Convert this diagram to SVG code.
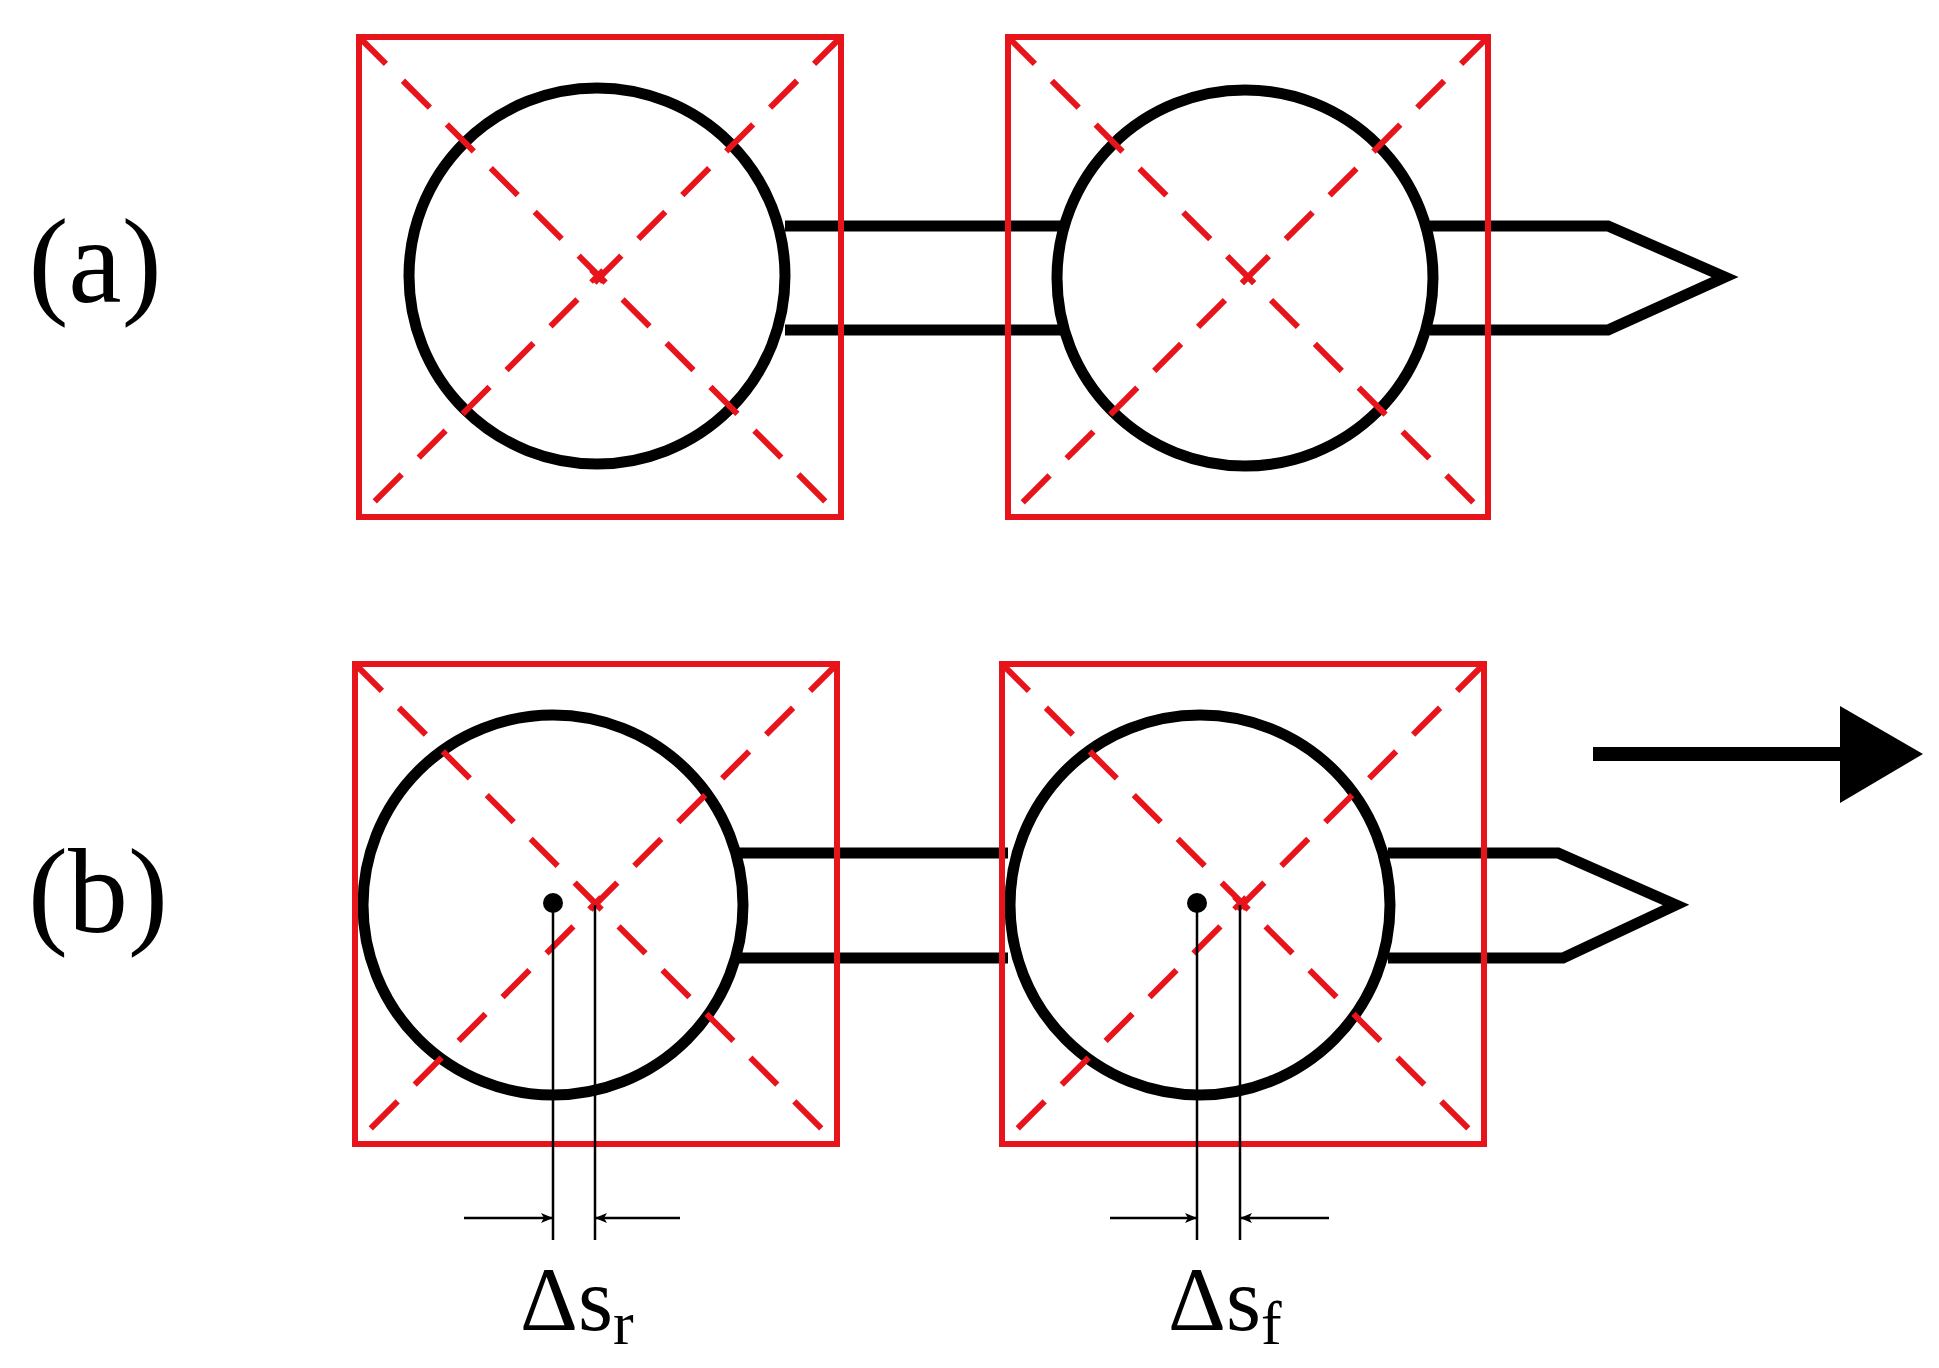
<svg xmlns="http://www.w3.org/2000/svg" width="1939" height="1368" viewBox="0 0 1939 1368">
<style>
.box{fill:none;stroke:#e8141c;stroke-width:6}
.diag{stroke:#e8141c;stroke-width:6;stroke-dasharray:38 24}
.cx{stroke:#e8141c;stroke-width:5}
.wheel{fill:#fff;stroke:#000;stroke-width:11}
.shaft{fill:none;stroke:#000;stroke-width:11}
.thin{stroke:#000;stroke-width:2.5;fill:none}
.lbl{font-family:'Liberation Serif','Times New Roman',serif;fill:#000}
</style>
<defs>
<marker id="ah" markerWidth="12" markerHeight="10" refX="12" refY="5" orient="auto" markerUnits="userSpaceOnUse"><path d="M0,0 L12,5 L0,10 L3,5 Z" fill="#000"/></marker>
</defs>
<rect width="1939" height="1368" fill="#fff"/>
<g id="connectors">
<path class="shaft" d="M785,226 H1070 M785,330 H1070 M1430,226 H1608 L1725,277 L1608,330 H1430"/>
<path class="shaft" d="M738,853 H1008 M738,958 H1008 M1388,853 H1558 L1676,905 L1563,958 H1388"/>
<line x1="1593" y1="754" x2="1850" y2="754" stroke="#000" stroke-width="14"/>
<polygon points="1840,706 1923,754 1840,803" fill="#000"/>
</g>
<g id="a1"><circle class="wheel" cx="597" cy="276" r="188"/><rect class="box" x="359" y="37" width="482" height="480"/><line class="diag" x1="359" y1="37" x2="841" y2="517"/><line class="diag" x1="841" y1="37" x2="359" y2="517"/><path class="cx" d="M591,270 l12,12 M603,270 l-12,12"/></g>
<g id="a2"><circle class="wheel" cx="1245" cy="278" r="188"/><rect class="box" x="1008" y="37" width="480" height="480"/><line class="diag" x1="1008" y1="37" x2="1488" y2="517"/><line class="diag" x1="1488" y1="37" x2="1008" y2="517"/><path class="cx" d="M1242,271 l12,12 M1254,271 l-12,12"/></g>
<g id="b1"><circle class="wheel" cx="553" cy="905" r="190"/><rect class="box" x="355" y="664" width="482" height="480"/><line class="diag" x1="355" y1="664" x2="837" y2="1144"/><line class="diag" x1="837" y1="664" x2="355" y2="1144"/><path class="cx" d="M589,897 l12,12 M601,897 l-12,12"/><circle cx="553" cy="903" r="10" fill="#000"/></g>
<g id="b2"><circle class="wheel" cx="1200" cy="905" r="190"/><rect class="box" x="1002" y="664" width="482" height="480"/><line class="diag" x1="1002" y1="664" x2="1484" y2="1144"/><line class="diag" x1="1484" y1="664" x2="1002" y2="1144"/><path class="cx" d="M1234,897 l12,12 M1246,897 l-12,12"/><circle cx="1197" cy="903" r="10" fill="#000"/></g>
<g id="dimensions">
<line class="thin" x1="553" y1="905" x2="553" y2="1240"/>
<line class="thin" x1="595" y1="905" x2="595" y2="1240"/>
<line class="thin" x1="464" y1="1218" x2="553" y2="1218" marker-end="url(#ah)"/>
<line class="thin" x1="680" y1="1218" x2="595" y2="1218" marker-end="url(#ah)"/>
<line class="thin" x1="1197" y1="905" x2="1197" y2="1240"/>
<line class="thin" x1="1240" y1="905" x2="1240" y2="1240"/>
<line class="thin" x1="1110" y1="1218" x2="1197" y2="1218" marker-end="url(#ah)"/>
<line class="thin" x1="1329" y1="1218" x2="1240" y2="1218" marker-end="url(#ah)"/>
</g>
<text class="lbl" x="95" y="302" font-size="120" text-anchor="middle">(a)</text>
<text class="lbl" x="98" y="932" font-size="120" text-anchor="middle">(b)</text>
<text class="lbl" x="520" y="1330" font-size="90">Δs<tspan font-size="62" dy="14">r</tspan></text>
<text class="lbl" x="1168" y="1330" font-size="90">Δs<tspan font-size="62" dy="14">f</tspan></text>
</svg>
